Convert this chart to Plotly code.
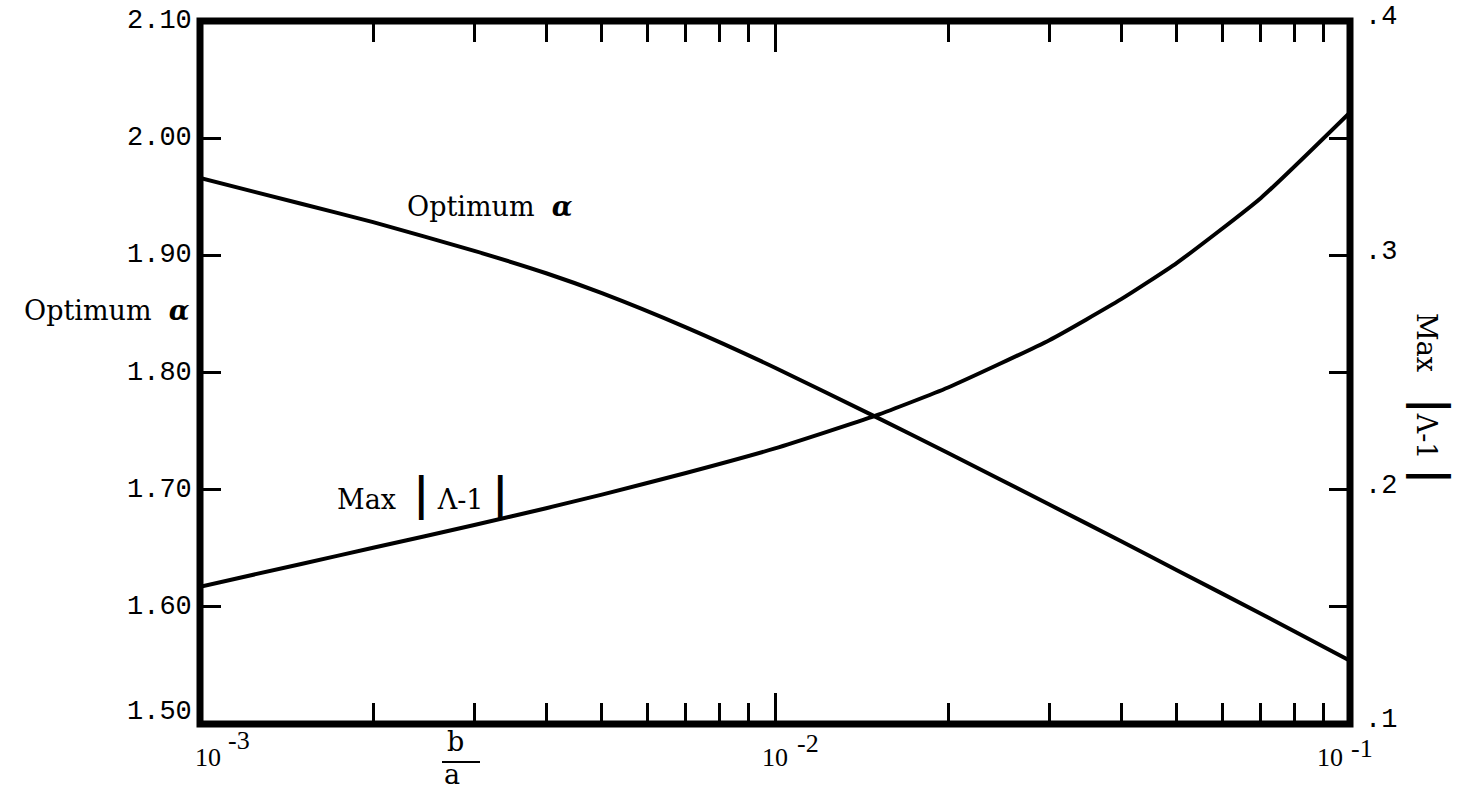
import math
import plotly.graph_objects as go

# b/a ratio (log scale) and the two curves read against it
ratio_ba = [0.001, 0.0015, 0.002, 0.003, 0.004, 0.005, 0.007, 0.01,
            0.015, 0.02, 0.03, 0.04, 0.05, 0.07, 0.1]
optimum_alpha = [1.966, 1.944, 1.9284, 1.9038, 1.8847, 1.8677, 1.8385, 1.8041,
                 1.7619, 1.7313, 1.6873, 1.656, 1.6313, 1.5941, 1.554]
max_lambda_dev = [0.1586, 0.1683, 0.1752, 0.1849, 0.1921, 0.1979, 0.2071, 0.2176,
                  0.2317, 0.2436, 0.2638, 0.2813, 0.2968, 0.3245, 0.361]

left_tick_vals = [1.50, 1.60, 1.70, 1.80, 1.90, 2.00, 2.10]
left_tick_text = ["1.50", "1.60", "1.70", "1.80", "1.90", "2.00", "2.10"]
right_tick_vals = [0.1, 0.2, 0.3, 0.4]
right_tick_text = [".1", ".2", ".3", ".4"]
decades = [1e-3, 1e-2, 1e-1]
decade_exponents = ["-3", "-2", "-1"]
minor_x_ticks = [m * d for d in decades[:2] for m in range(2, 10)]

W, H = 1460, 791
ML, MR, MT, MB = 200, 110, 21, 67
PW, PH = W - ML - MR, H - MT - MB

NUM_FONT = dict(family="Liberation Mono", size=27, color="black")
TXT_FONT = dict(family="DejaVu Serif", size=27, color="black")
EXP_FONT = dict(family="Liberation Serif", size=26, color="black")


def px(xp):
    return (xp - ML) / PW


def py(yp):
    return (MT + PH - yp) / PH


fig = go.Figure()
fig.add_trace(go.Scatter(x=ratio_ba, y=optimum_alpha, mode="lines",
                         line=dict(color="black", width=4, shape="spline", smoothing=0.5),
                         yaxis="y", showlegend=False))
fig.add_trace(go.Scatter(x=ratio_ba, y=max_lambda_dev, mode="lines",
                         line=dict(color="black", width=4, shape="spline", smoothing=0.5),
                         yaxis="y2", showlegend=False))

annotations = []
# left value labels; the bottom one sits a little higher, clear of the decade label
left_label_shift = [12, 0, 0, 0, 0, 0, 0]
for v, t, s in zip(left_tick_vals, left_tick_text, left_label_shift):
    annotations.append(dict(x=0, xref="paper", y=v, yref="y", text=t, showarrow=False,
                            font=NUM_FONT, xanchor="right", yanchor="middle",
                            xshift=-6, yshift=s))

# decade labels 10^n along the bottom
ten_shift = [8, 0, -20]
exp_shift = [27, 21, 0]
exp_raise = [-16, -19, -24]
for d, e, s10, se, sy in zip(decades, decade_exponents, ten_shift, exp_shift, exp_raise):
    annotations.append(dict(x=math.log10(d), xref="x", y=0, yref="paper", text="10",
                            showarrow=False, font=EXP_FONT, xanchor="center",
                            yanchor="middle", xshift=s10, yshift=-33))
    annotations.append(dict(x=math.log10(d), xref="x", y=0, yref="paper", text=e,
                            showarrow=False, font=EXP_FONT, xanchor="left",
                            yanchor="middle", xshift=se, yshift=sy, borderpad=0))

# b/a fraction under the axis
annotations.append(dict(x=px(455), y=py(741), xref="paper", yref="paper", text="b",
                        showarrow=False, font=TXT_FONT, xanchor="center", yanchor="middle"))
annotations.append(dict(x=px(452), y=0, xref="paper", yref="paper", text="a",
                        showarrow=False, font=TXT_FONT, xanchor="center", yanchor="bottom",
                        yshift=-(H - MT - PH), borderpad=0))

bar = "<span style='font-size:44px'><b>|</b></span>"
# curve labels inside the frame
annotations.append(dict(x=px(405), y=py(206), xref="paper", yref="paper",
                        text="Optimum  <b><i>α</i></b>", showarrow=False, font=TXT_FONT,
                        xanchor="left", yanchor="middle"))
annotations.append(dict(x=px(335), y=py(494), xref="paper", yref="paper",
                        text="Max  " + bar + " Λ-1 " + bar, showarrow=False, font=TXT_FONT,
                        xanchor="left", yanchor="middle"))
# axis titles
annotations.append(dict(x=px(192), y=py(310), xref="paper", yref="paper",
                        text="Optimum  <b><i>α</i></b>", showarrow=False, font=TXT_FONT,
                        xanchor="right", yanchor="middle"))
annotations.append(dict(x=px(1432), y=py(399), xref="paper", yref="paper",
                        text="Max   " + bar + "Λ-1 " + bar, showarrow=False, font=TXT_FONT,
                        textangle=90, xanchor="center", yanchor="middle"))

fig.update_layout(
    width=W, height=H,
    margin=dict(l=ML, r=MR, t=MT, b=MB, pad=0, autoexpand=False),
    paper_bgcolor="white", plot_bgcolor="white",
    xaxis=dict(type="log", range=[-3, -1], showgrid=False, zeroline=False,
               showline=False, showticklabels=False, automargin=False,
               tickmode="array", tickvals=decades,
               ticks="inside", ticklen=31, tickwidth=2.5, tickcolor="black",
               mirror="ticks",
               minor=dict(tickmode="array", tickvals=minor_x_ticks, ticks="inside",
                          ticklen=21, tickwidth=2.5, tickcolor="black", showgrid=False)),
    yaxis=dict(range=[1.5, 2.1], showgrid=False, zeroline=False, showline=False,
               automargin=False, showticklabels=False,
               tickmode="array", tickvals=left_tick_vals,
               ticks="inside", ticklen=21, tickwidth=2.5, tickcolor="black",
               mirror="ticks"),
    yaxis2=dict(range=[0.1, 0.4], overlaying="y", side="right", showgrid=False,
                zeroline=False, showline=False, ticks="", automargin=False,
                tickmode="array", tickvals=right_tick_vals, ticktext=right_tick_text,
                tickfont=NUM_FONT, ticklabelstandoff=14, ticklabelshift=-6),
    shapes=[
        dict(type="rect", xref="paper", yref="paper", x0=0, x1=1, y0=0, y1=1,
             line=dict(color="black", width=7), layer="above"),
        dict(type="line", xref="paper", yref="paper", x0=px(442), x1=px(480),
             y0=py(762), y1=py(762), line=dict(color="black", width=2)),
    ],
    annotations=annotations,
)

fig.write_html("out.html")
